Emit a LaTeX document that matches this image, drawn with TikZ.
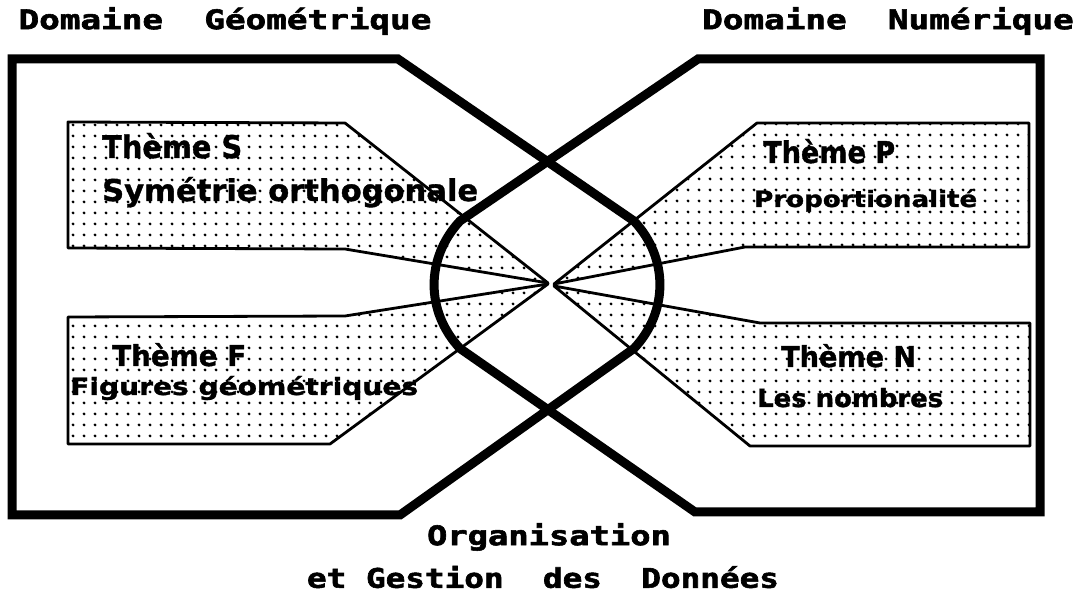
\documentclass[tikz,border=0pt]{standalone}
\usepackage{fontspec}
\setmainfont{DejaVu Sans}[BoldFeatures={FakeBold=1.2}]
\newfontfamily\titlefont{DejaVu Sans Mono}[BoldFeatures={FakeBold=2}]
\usetikzlibrary{patterns.meta}
\newcommand{\wbox}[3]{\resizebox{#1pt}{#2pt}{\bfseries #3}}
\begin{document}
\begin{tikzpicture}[x=1pt,y=-1pt,
  domainline/.style={line width=9pt, line join=miter},
  themebox/.style={line width=2.8pt, line join=round,
    pattern={Dots[distance=10.5pt,radius=1.6pt]}},
  titletext/.style={font=\titlefont\bfseries\fontsize{27}{27}\selectfont, inner sep=0pt},
  themetext/.style={inner sep=0pt, anchor=base west}
]
\useasboundingbox[fill=white] (0,0) rectangle (1080,593);

% theme boxes
\draw[themebox] (68,122) -- (345,123) -- (548,283) -- (345,249) -- (68,248) -- cycle;
\draw[themebox] (68,317) -- (345,316) -- (548,284) -- (330,444) -- (68,444) -- cycle;
\draw[themebox] (757,123) -- (1029,123) -- (1029,247) -- (745,247) -- (554,284) -- cycle;
\draw[themebox] (554,286) -- (760,323) -- (1030,323) -- (1030,446) -- (750,446) -- cycle;

% domains
\draw[domainline] (12,59) -- (398,59) -- (634,221)
   arc[start angle=-39.6, end angle=39.6, x radius=113, y radius=100]
   -- (400,515) -- (12,515) -- cycle;
\draw[domainline] (1040,59) -- (698,59) -- (460,221)
   arc[start angle=219.6, end angle=140.4, x radius=113, y radius=100]
   -- (695,512) -- (1040,512) -- cycle;

% texts
\node[titletext] (tg) at (225,21) {\scalebox{1.27}[1]{Domaine\ \ Géométrique}};
\node[titletext] (tn) at (888,21) {\scalebox{1.27}[1]{Domaine\ \ Numérique}};
\node[titletext] (o1) at (549,537) {\scalebox{1.25}[1]{Organisation}};
\node[titletext] (o2) at (543,577) {\scalebox{1.21}[1]{et Gestion\ \ des\ \ Données}};

\node[themetext] (s1) at (102,158) {\wbox{140}{25}{Thème S}};
\node[themetext] (s2) at (102,201) {\wbox{376}{24}{Symétrie orthogonale}};
\node[themetext] (p1) at (763,163) {\wbox{132}{24}{Thème P}};
\node[themetext] (p2) at (754,207) {\wbox{223}{18}{Proportionalité}};
\node[themetext] (f1) at (112,366) {\wbox{134}{23}{Thème F}};
\node[themetext] (f2) at (70,395) {\wbox{348}{19}{Figures géométriques}};
\node[themetext] (n1) at (781,367) {\wbox{135}{23}{Thème N}};
\node[themetext] (n2) at (757,407) {\wbox{186}{19}{Les nombres}};
\end{tikzpicture}
\end{document}
